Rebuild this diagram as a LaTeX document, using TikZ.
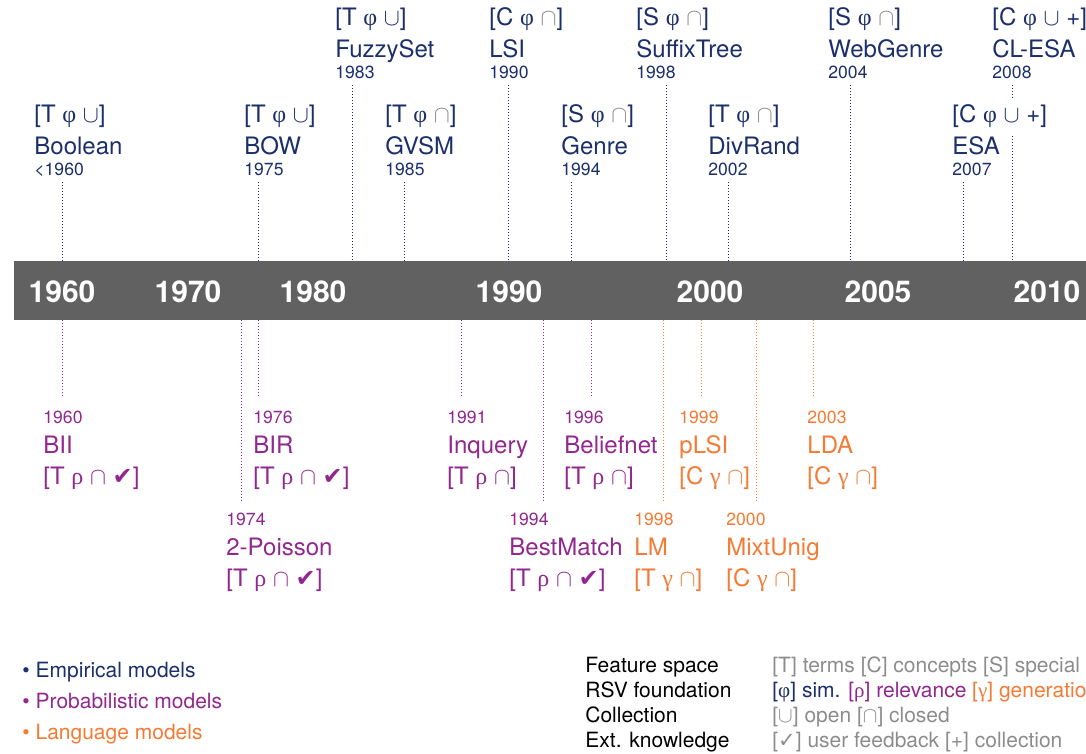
\documentclass[tikz,border=0pt]{standalone}
\usepackage{fontspec}
\setmainfont{TeX Gyre Heros}
\newfontfamily\symbfont{DejaVu Sans}
\newfontfamily\grkfont{Liberation Serif}

\definecolor{empblue}{RGB}{27,47,107}
\definecolor{probpurple}{RGB}{146,39,143}
\definecolor{langorange}{RGB}{245,122,52}
\definecolor{bargray}{RGB}{97,97,97}
\definecolor{keygray}{RGB}{140,140,140}

\newcommand{\gphi}{{\grkfont φ}}
\newcommand{\grho}{{\grkfont ρ}}
\newcommand{\ggam}{{\grkfont γ}}
\newcommand{\gcap}{\textcolor{keygray}{$\cap$}}
\newcommand{\chk}{{\symbfont\char"2714}}
\newcommand{\lchk}{{\symbfont\char"2713}}

\begin{document}
\begin{tikzpicture}[x=0.5pt, y=-0.5pt,
	every node/.style={inner sep=0pt},
	bar/.style={fill=bargray, minimum width=536pt, minimum height=29.5pt},
	decade/.style={anchor=base, white, font=\bfseries\fontsize{15}{18}\selectfont},
	labtag/.style={anchor=base west, font=\fontsize{12}{14}\selectfont},
	model/.style={anchor=base west, font=\fontsize{12}{14}\selectfont},
	yr/.style={anchor=base west, font=\fontsize{8.8}{10}\selectfont},
	yrline/.style={densely dotted, line width=0.5pt},
	keytext/.style={anchor=base west, font=\fontsize{10.5}{12}\selectfont}]
		\useasboundingbox (0,0) rectangle (1086,754);
		% time axis
		\node[bar] (bar) at (550,290.5) {};
		\foreach \n/\x in {1960/62, 1970/188, 1980/313, 1990/509, 2000/710, 2005/878, 2010/1047}
			\node[decade] (d\n) at (\x,302) {\n};
		% empirical models, above
		\foreach \id/\tx/\lx/\r/\tg/\nm/\yr in {
				fuzzy/335/352/1/{[T \gphi\ $\cup$]}/FuzzySet/1983,
				lsi/489/508/1/{[C \gphi\ \gcap]}/LSI/1990,
				suffix/636/666/1/{[S \gphi\ \gcap]}/SuffixTree/1998,
				webgenre/828/850/1/{[S \gphi\ \gcap]}/WebGenre/2004,
				clesa/992/1012/1/{[C \gphi\ $\cup$ +]}/CL-ESA/2008,
				bool/34/62/0/{[T \gphi\ $\cup$]}/Boolean/{<1960},
				bow/244/258/0/{[T \gphi\ $\cup$]}/BOW/1975,
				gvsm/385/404/0/{[T \gphi\ \gcap]}/GVSM/1985,
				genre/561/571/0/{[S \gphi\ \gcap]}/Genre/1994,
				divrand/708/728/0/{[T \gphi\ \gcap]}/DivRand/2002,
				esa/952/963/0/{[C \gphi\ $\cup$ +]}/ESA/2007}
		{
			\coordinate (e\id) at (\lx,182-97*\r);
			\draw[yrline, empblue] (e\id) -- (e\id |- bar.north);
			\node[labtag, empblue, fill=white, inner ysep=3pt] (te\id) at (\tx,123-97*\r) {\tg};
			\node[model, empblue] (me\id) at (\tx,155-97*\r) {\nm};
			\node[yr, empblue] (ye\id) at (\tx,176-97*\r) {\yr};
		}
		% probabilistic and language models, below
		\foreach \id/\tx/\lx/\r/\cl/\tg/\nm/\yr in {
				bii/43/62/0/probpurple/{[T \grho\ $\cap$ \chk]}/BII/1960,
				bir/253/258/0/probpurple/{[T \grho\ $\cap$ \chk]}/BIR/1976,
				inquery/447/461/0/probpurple/{[T \grho\ $\cap$]}/Inquery/1991,
				belief/564/591/0/probpurple/{[T \grho\ $\cap$]}/Beliefnet/1996,
				plsi/679/701/0/langorange/{[C \ggam\ $\cap$]}/pLSI/1999,
				lda/807/813/0/langorange/{[C \ggam\ $\cap$]}/LDA/2003,
				poisson/226/241/1/probpurple/{[T \grho\ $\cap$ \chk]}/2-Poisson/1974,
				best/509/543/1/probpurple/{[T \grho\ $\cap$ \chk]}/BestMatch/1994,
				lm/634/663/1/langorange/{[T \ggam\ $\cap$]}/LM/1998,
				mixt/726/756/1/langorange/{[C \ggam\ $\cap$]}/MixtUnig/2000}
		{
			\coordinate (p\id) at (\lx,398+105*\r);
			\draw[yrline, \cl] (p\id |- bar.south) -- (p\id);
			\node[yr, \cl] (yp\id) at (\tx,423+102*\r) {\yr};
			\node[model, \cl] (mp\id) at (\tx,453+102*\r) {\nm};
			\node[labtag, \cl] (tp\id) at (\tx,484+102*\r) {\tg};
		}
		% legend
		\node[keytext, empblue] (lemp) at (22,677) {\textbullet\ Empirical models};
		\node[keytext, probpurple] (lprob) at (22,708) {\textbullet\ Probabilistic models};
		\node[keytext, langorange] (llang) at (22,739) {\textbullet\ Language models};
		\node[keytext] (kfeat) at (585,672) {Feature space};
		\node[keytext] (krsv) at (585,697) {RSV foundation};
		\node[keytext] (kcoll) at (585,722) {Collection};
		\node[keytext] (kext) at (585,747) {Ext. knowledge};
		\node[keytext, keygray] (vfeat) at (772,672) {[T] terms [C] concepts [S] special};
		\node[keytext] (vrsv) at (772,697) {\textcolor{empblue}{[\gphi] sim.} \textcolor{probpurple}{[\grho] relevance} \textcolor{langorange}{[\ggam] generation}};
		\node[keytext, keygray] (vcoll) at (772,722) {[$\cup$] open [$\cap$] closed};
		\node[keytext, keygray] (vext) at (772,747) {[\lchk] user feedback [+] collection};
\end{tikzpicture}
\end{document}
